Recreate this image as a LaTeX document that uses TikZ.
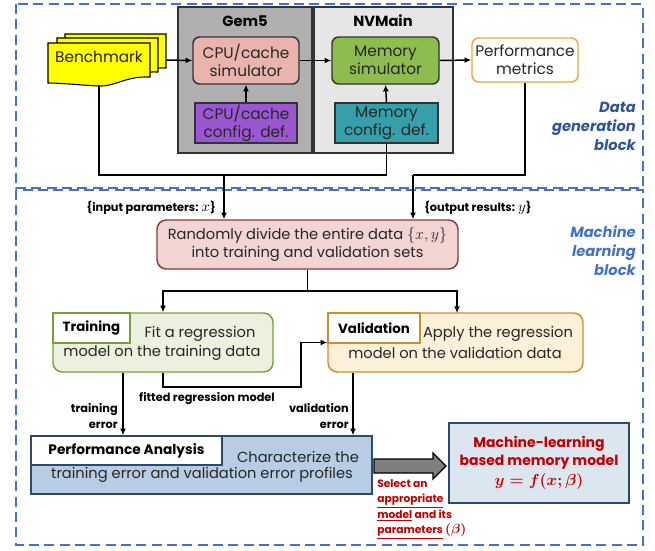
\documentclass[tikz,border=0pt]{standalone}
\usepackage{amsmath}
\usepackage{fontspec}
\setmainfont{Poppins}
\usetikzlibrary{arrows.meta,calc}
\definecolor{gemgray}{HTML}{B0B0B0}
\definecolor{nvgray}{HTML}{E6E6E6}
\definecolor{cpupink}{HTML}{E8B4AD}
\definecolor{cfgpurple}{HTML}{9B57D3}
\definecolor{memgreen}{HTML}{8FBC50}
\definecolor{memteal}{HTML}{35A0AC}
\definecolor{perforange}{HTML}{E8A838}
\definecolor{randfill}{HTML}{F2D5D3}
\definecolor{randdraw}{HTML}{843C3C}
\definecolor{trfill}{HTML}{EBF1DE}
\definecolor{trdraw}{HTML}{77A03C}
\definecolor{valfill}{HTML}{FDF0D9}
\definecolor{valdraw}{HTML}{C9902C}
\definecolor{pafill}{HTML}{B8CCE4}
\definecolor{padraw}{HTML}{2E4A6A}
\definecolor{mlfill}{HTML}{DCE6F0}
\definecolor{dashblue}{HTML}{4472C4}
\definecolor{lblblue}{HTML}{2F5597}
\definecolor{benchy}{HTML}{FFFF00}
\definecolor{txt}{HTML}{262626}
\definecolor{redtxt}{HTML}{C00000}
\definecolor{arrgray}{HTML}{7F7F7F}
\tikzset{
  wh/.style 2 args={minimum width=#1*0.75pt, minimum height=#2*0.75pt},
  boxbase/.style={inner sep=0pt, align=center, text=txt, line width=1.1pt,
     font=\fontsize{11}{13.5}\selectfont},
  simbox/.style={boxbase, draw=black!80, rounded corners=5pt, font=\fontsize{11.5}{13.5}\selectfont},
  cfgbox/.style={boxbase, draw=black!80, font=\fontsize{11.5}{13.5}\selectfont},
  tabbox/.style={inner sep=0pt, fill=white, line width=1.1pt, text=black,
     font=\bfseries\fontsize{10}{11}\selectfont},
  btxt/.style={inner sep=0pt, text=txt, font=\fontsize{11}{13.5}\selectfont},
  lbl/.style={inner sep=0pt, text=black, font=\bfseries\fontsize{8.5}{12}\selectfont},
  conn/.style={line width=1.1pt, draw=black},
  arr/.style={conn, -{Latex[length=5pt,width=4.5pt]}},
  blockline/.style={draw=dashblue, line width=1.5pt, dash pattern=on 7.5pt off 4pt},
  blocklbl/.style={inner sep=0pt, align=right, text=lblblue,
     font=\bfseries\itshape\fontsize{11}{14.2}\selectfont},
}
\begin{document}
\begin{tikzpicture}[x=0.75pt,y=-0.75pt]
\useasboundingbox (0,0) rectangle (655,550);
% block frames
\draw[blockline] (16,4) rectangle (643,188);
\draw[blockline] (16,190) rectangle (643,545);
\node[blocklbl, anchor=east] (dglbl) at (636,126) {Data\\generation\\block};
\node[blocklbl, anchor=east, text=dashblue] (mllbl) at (636,251) {Machine\\learning\\block};

% simulators frames
\draw[fill=gemgray, draw=black!80, line width=1.3pt] (178,7) rectangle (312,153);
\draw[fill=nvgray, draw=black!80, line width=1.3pt] (314,7) rectangle (453,153);
\node[font=\bfseries\fontsize{11}{12}\selectfont, inner sep=0pt] (gem) at (245,21) {Gem5};
\node[font=\bfseries\fontsize{11}{12}\selectfont, inner sep=0pt] (nvm) at (383,21) {NVMain};

% benchmark stack
\draw[fill=benchy, line width=0.8pt] (65,34) -- (166,34) -- (166,68) .. controls (141,67) and (131,78) .. (114,77) .. controls (96,76) and (76,74) .. (65,74) -- cycle;
\draw[fill=benchy, line width=0.8pt] (57,38) -- (158,38) -- (158,72) .. controls (133,71) and (123,82) .. (106,81) .. controls (88,80) and (68,78) .. (57,78) -- cycle;
\draw[fill=benchy, line width=0.8pt] (48,43) -- (150,43) -- (150,77) .. controls (125,76) and (115,87) .. (98,86) .. controls (80,85) and (60,83) .. (48,83) -- cycle;
\node[btxt, font=\fontsize{11.5}{13.5}\selectfont] (bench) at (99,57) {Benchmark};
\coordinate (benchout) at (166,60);
\coordinate (benchbot) at (99,85);

\node[simbox, fill=cpupink, wh={106}{47}] (cpusim) at (246,60.5) {CPU/cache\\simulator};
\node[cfgbox, fill=cfgpurple, wh={102}{40}] (cpucfg) at (246,123) {CPU/cache\\config. def.};
\node[simbox, fill=memgreen, wh={107}{47}] (memsim) at (385.5,60.5) {Memory\\simulator};
\node[cfgbox, fill=memteal, wh={103}{40}] (memcfg) at (386.5,123) {Memory\\config. def.};
\node[simbox, draw=perforange, fill=white, wh={106}{44}] (perf) at (525,60) {Performance\\metrics};

\draw[arr] (benchout) -- (cpusim.west);
\draw[arr] (cpusim.east) -- (memsim.west);
\draw[arr] (memsim.east) -- (perf.west);
\draw[arr] (cpucfg.north) -- (cpusim.south);
\draw[arr] (memcfg.north) -- (memsim.south);

% machine learning block
\node[boxbase, draw=randdraw, fill=randfill, rounded corners=7pt, wh={301}{49}] (rand) at (307.5,244.5)
  {Randomly divide the entire data {\fontsize{13}{13.5}\selectfont$\{x,y\}$}\\into training and validation sets};

\coordinate (j1) at (224,175);
\coordinate (j2) at (413,175);
\draw[conn] (benchbot) |- (j1);
\draw[conn] (memcfg.south) |- (j1);
\draw[arr] (j1) -- (j1 |- rand.north);
\draw[conn] (perf.south) |- (j2);
\draw[arr] (j2) -- (j2 |- rand.north);
\node[lbl, anchor=east] (inlbl) at (216,208) {\{input parameters: {\fontsize{11}{12}\selectfont$x$}\}};
\node[lbl, anchor=west] (outlbl) at (424,208) {\{output results: {\fontsize{11}{12}\selectfont$y$}\}};

\node[boxbase, draw=trdraw, fill=trfill, rounded corners=7pt, wh={220}{59}] (train) at (163,342.5) {};
\node[tabbox, draw=trdraw, wh={77}{30}, anchor=north west] (traintab) at (train.north west) {Training};
\node[btxt] (traint1) at (200,334) {Fit a regression};
\node[btxt] (traint2) at (162,353) {model on the training data};

\node[boxbase, draw=valdraw, fill=valfill, rounded corners=7pt, wh={255}{59}] (val) at (455.5,342.5) {};
\node[tabbox, draw=valdraw, wh={92}{30}, anchor=north west] (valtab) at (val.north west) {Validation};
\node[btxt] (valt1) at (498,334) {Apply the regression};
\node[btxt] (valt2) at (455,353) {model on the validation data};

\coordinate (j3) at (307.5,291);
\draw[conn] (rand.south) -- (j3);
\draw[arr] (j3) -| (train.north);
\draw[arr] (j3) -| (457,313);

\coordinate (f1) at (301,387);
\draw[arr] (train.south) |- (f1) |- (val.west);
\node[lbl] (fitlbl) at (207,399) {fitted regression model};

\node[boxbase, draw=padraw, fill=pafill, wh={341}{58}] (pa) at (201.5,465) {};
\node[tabbox, draw=padraw, wh={191}{29}, anchor=north west, font=\bfseries\fontsize{10.3}{11}\selectfont] (patab) at (pa.north west) {Performance Analysis};
\node[btxt] (pat1) at (298,457) {Characterize the};
\node[btxt] (pat2) at (202,475) {training error and validation error profiles};

\coordinate (te) at (123,0);
\coordinate (ve) at (353,0);
\draw[arr] (te |- train.south) -- (te |- pa.north);
\draw[arr] (ve |- val.south) -- (ve |- pa.north);
\node[lbl, anchor=east, align=right] (telbl) at (118,416) {training\\error};
\node[lbl, anchor=east, align=right] (velbl) at (349,416) {validation\\error};

\node[boxbase, draw=padraw, fill=mlfill, wh={180}{80}, text=redtxt,
  font=\bfseries\fontsize{10.5}{13.5}\selectfont] (ml) at (539,463)
  {Machine-learning\\based memory model\\[1pt]{\fontsize{13}{14}\selectfont$\boldsymbol{y=f(x;\beta)}$}};

\draw[fill=arrgray, draw=black, line width=1pt] (374,459) -- (433,459) -- (433,453) -- (446,466) -- (433,479) -- (433,473) -- (374,473) -- cycle;

\node[inner sep=0pt, anchor=north west, align=left, text=redtxt,
  font=\bfseries\fontsize{8}{11.6}\selectfont] (sel) at (377,479)
  {Select an\\\underline{appropriate}\\\underline{model} and its\\\underline{parameters} {\fontsize{10}{11}\selectfont$\boldsymbol{(\beta)}$}};
\end{tikzpicture}
\end{document}
